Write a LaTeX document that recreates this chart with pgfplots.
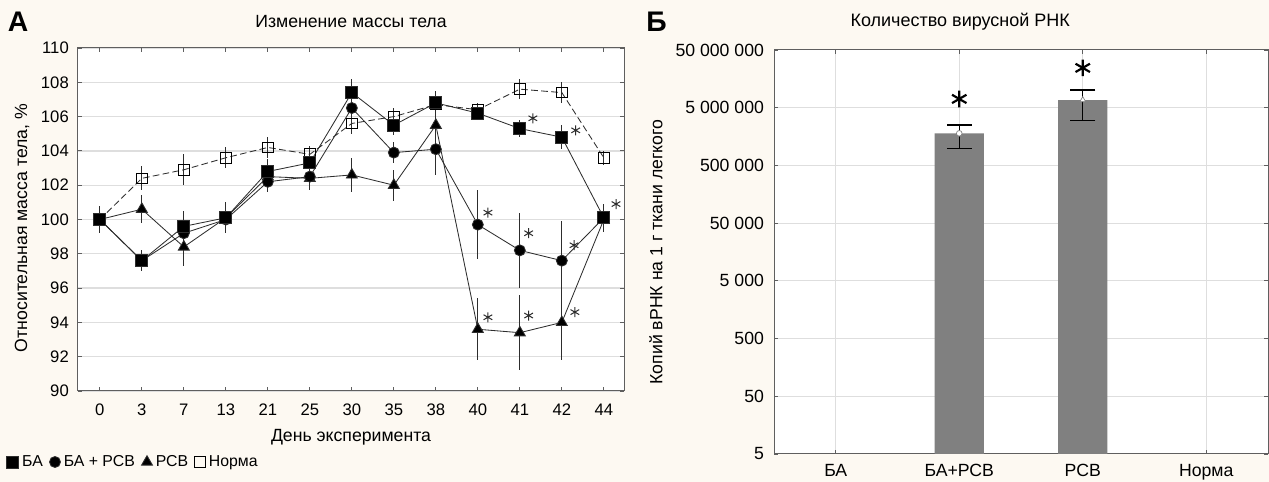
\documentclass[border=0pt]{standalone}
\usepackage{fontspec}
\setmainfont{Liberation Sans}
\usepackage{pgfplots}
\usepackage{pgfplotstable}
\pgfplotsset{compat=1.18}

\definecolor{bg}{RGB}{253,249,242}
\definecolor{gridc}{RGB}{222,222,222}
\definecolor{axc}{RGB}{95,95,95}
\definecolor{barc}{RGB}{128,128,128}
\definecolor{linec}{RGB}{45,45,45}

% day index, mean and error for each group
\pgfplotstableread{
i  ba     eba  bar    ebar  r      er   n      en
0  100.0  0.8  100.0  0.6   100.0  0.6  100.0  0.5
1  97.6   0.6  97.6   0.6   100.6  0.8  102.4  0.7
2  99.6   0.9  99.2   0.8   98.4   1.1  102.9  0.9
3  100.1  0.9  100.0  0.7   100.1  0.7  103.6  0.6
4  102.8  0.7  102.2  0.6   102.5  0.6  104.2  0.6
5  103.3  0.7  102.5  0.6   102.4  0.7  103.8  0.5
6  107.4  0.8  106.5  0.8   102.6  1.0  105.6  0.6
7  105.5  0.6  103.9  0.6   102.0  0.9  106.0  0.5
8  106.8  0.7  104.1  1.5   105.5  1.2  106.7  0.6
9  106.2  0.4  99.7   2.0   93.6   1.8  106.4  0.4
10 105.3  0.5  98.2   2.2   93.4   2.2  107.6  0.6
11 104.8  0.7  97.6   2.3   94.0   2.2  107.4  0.6
12 100.1  0.8  100.1  0.7   100.0  0.6  103.6  0.4
}\mass

\begin{document}
\begin{tikzpicture}
\useasboundingbox (0,0) rectangle (761.4pt,289.2pt);
\fill[bg] (0,0) rectangle (761.4pt,289.2pt);

\pgfplotsset{
  every axis/.append style={
    scale only axis, anchor=south west,
    axis background/.style={fill=white},
    axis line style={axc, line width=0.6pt},
    tick align=inside, major tick length=2.5pt,
    tick style={axc, line width=0.5pt},
    /pgf/number format/assume math mode=true,
    ylabel style={anchor=center},
    xlabel style={anchor=center},
  },
}

\node[font=\bfseries\fontsize{17}{17}\selectfont] at (10.8pt,276pt) {А};
\node[font=\bfseries\fontsize{17}{17}\selectfont] at (394pt,276pt) {Б};

% ---------- panel A ----------
\begin{axis}[
  at={(46.8pt,54.6pt)},
  width=327.6pt, height=205.8pt,
  xmin=-0.52, xmax=12.48, ymin=90, ymax=110,
  xtick={0,...,12},
  xticklabels={0,3,7,13,21,25,30,35,38,40,41,42,44},
  ytick={90,92,...,110},
  ymajorgrids, grid style={gridc, line width=0.8pt},
  tick label style={font=\fontsize{10}{12}\selectfont},
  label style={font=\fontsize{10.6}{12}\selectfont},
  xticklabel style={yshift=-4.2pt},
  yticklabel style={xshift=-2pt},
  title={Изменение массы тела},
  title style={at={(0.5,1)}, anchor=center, yshift=9.6pt, font=\fontsize{10.6}{12}\selectfont},
  xlabel={День эксперимента},
  xlabel style={at={(axis description cs:0.5,-0.134)}},
  ylabel={Относительная масса тела, \%},
  ylabel style={at={(axis description cs:-0.1026,0.475)}},
  legend style={at={(axis description cs:-0.14,-0.207)}, anchor=west,
    draw=none, fill=none, font=\fontsize{9.5}{11}\selectfont,
    /tikz/every even column/.append style={column sep=2pt}},
  legend columns=-1, reverse legend,
  legend image code/.code={\draw[#1] plot[only marks] coordinates {(0.1cm,0cm)};},
  error bars/y dir=both, error bars/y explicit,
  error bars/error mark=none,
  error bars/error bar style={linec, line width=0.5pt, solid},
]
\addplot[linec, line width=0.5pt, dash pattern=on 4pt off 2pt,
  mark=square, mark size=3.2pt, mark options={solid, fill=white, draw=black, line width=0.6pt}]
  table[x=i, y=n, y error=en] {\mass};
\addlegendentry{Норма}
\addplot[linec, line width=0.5pt, mark=triangle*, mark size=3.8pt,
  mark options={fill=black}]
  table[x=i, y=r, y error=er] {\mass};
\addlegendentry{РСВ}
\addplot[linec, line width=0.5pt, mark=*, mark size=3.3pt,
  mark options={fill=black}]
  table[x=i, y=bar, y error=ebar] {\mass};
\addlegendentry{БА + РСВ}
\addplot[linec, line width=0.5pt, mark=square*, mark size=3.6pt,
  mark options={fill=black}]
  table[x=i, y=ba, y error=eba] {\mass};
\addlegendentry{БА}
% significance marks
\addplot[forget plot, only marks, mark=asterisk, mark size=3pt, linec, line width=0.6pt,
  error bars/y dir=none]
  coordinates {(10.31,105.9) (11.33,105.2) (12.29,100.9)
               (9.24,100.4) (10.21,99.2) (11.29,98.5)
               (9.24,94.3) (10.21,94.4) (11.31,94.6)};
\end{axis}

% ---------- panel B ----------
\begin{axis}[
  at={(464.4pt,16.8pt)},
  width=296.4pt, height=242.4pt,
  ymode=log, log origin=infty,
  ymin=5, ymax=5e7, xmin=-0.5, xmax=3.5,
  xtick={0,1,2,3},
  xticklabels={БА,БА+РСВ,РСВ,Норма},
  ytick={5,50,500,5000,50000,500000,5000000,50000000},
  yticklabels={5,50,500,5 000,50 000,500 000,5 000 000,50 000 000},
  yminorticks=false,
  xmajorgrids, ymajorgrids, grid style={gridc, line width=0.6pt},
  tick label style={font=\fontsize{10.6}{12}\selectfont},
  label style={font=\fontsize{10.6}{12}\selectfont},
  xticklabel style={yshift=-2.5pt},
  yticklabel style={xshift=-2.5pt},
  title={Количество вирусной РНК},
  title style={at={(0.377,1)}, anchor=center, yshift=10.8pt, font=\fontsize{10.8}{12}\selectfont},
  ylabel={Копий вРНК на 1 г ткани легкого},
  ylabel style={at={(axis description cs:-0.239,0.5)}},
]
\addplot[ybar, bar width=0.4, fill=barc, draw=none]
  coordinates {(1,1.8e6) (2,6.8e6)};
% error bars (lower and upper ends)
\addplot[black, line width=0.8pt, mark=-, mark size=7.5pt]
  coordinates {(1,9.9e5) (1,2.5e6)};
\addplot[black, line width=0.8pt, mark=-, mark size=7.5pt]
  coordinates {(2,3.0e6) (2,1.02e7)};
\addplot[only marks, mark=*, mark size=1.7pt, fill=white, draw=gray]
  coordinates {(1,1.8e6)};
\addplot[only marks, mark=triangle*, mark size=2pt, fill=white, draw=gray]
  coordinates {(2,6.8e6)};
\addplot[only marks, mark=asterisk, mark size=5pt, line width=1.3pt, black]
  coordinates {(1,7.1e6) (2,2.45e7)};
\end{axis}
\end{tikzpicture}
\end{document}
